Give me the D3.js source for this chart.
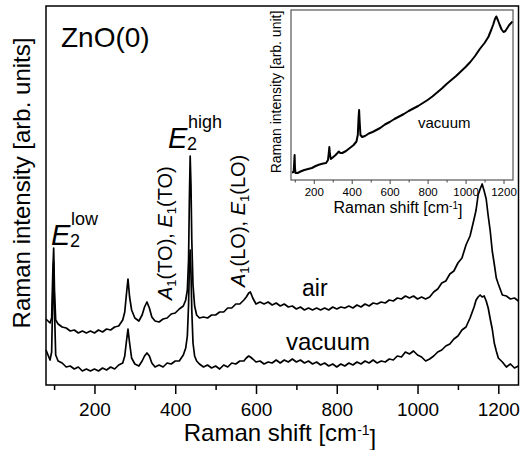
<!DOCTYPE html>
<html>
<head>
<meta charset="utf-8">
<script src="https://cdn.jsdelivr.net/npm/d3@7"></script>
<style>
  body { margin: 0; background: #fff; }
  text { font-family: "Liberation Sans", Arial, sans-serif; fill: #000; }
</style>
</head>
<body>
<div id="chart"></div>
<script>
// Raman shift grid of the main spectra [cm-1]
var shift = [
  80, 90, 94, 97, 99, 101, 104,
  110, 120, 130, 140, 150, 160, 170, 180, 190, 200,
  210, 220, 230, 240, 250, 260, 270,
  275, 279, 283, 287, 292, 300, 310,
  318, 324, 330, 336, 342, 350,
  360, 370, 380, 390, 400, 410, 420,
  426, 430, 433, 435, 437, 439, 441, 444, 448, 453, 460,
  470, 480, 490, 500, 510, 520, 530, 540, 550, 560, 570,
  576, 582, 586, 592, 600,
  610, 620, 630, 640, 650, 660, 670, 680, 690, 700,
  710, 720, 730, 740, 750, 760, 770, 780, 790, 800,
  810, 820, 830, 840, 850, 860, 870, 880, 890, 900,
  910, 920, 930, 940, 950, 960, 970, 980, 990, 1000,
  1010, 1020, 1030, 1040, 1050, 1060, 1070, 1080, 1090, 1100,
  1110, 1120, 1130, 1140,
  1145, 1150, 1155, 1160, 1165, 1170, 1175, 1180, 1185, 1190, 1195, 1200,
  1210, 1220, 1230, 1240, 1250
];

// intensity in air (arb. units)
var air = [
  66, 62, 67, 115, 137, 95, 65,
  61, 58, 57, 54, 55, 52, 54, 52, 54, 52,
  55, 53, 56, 55, 58, 59, 65,
  73, 90, 106, 88, 75, 67, 64,
  70, 78, 83, 77, 68, 64,
  63, 66, 67, 71, 72, 76, 79,
  85, 95, 125, 185, 229, 200, 145, 100, 79, 70, 67,
  68, 67, 70, 70, 73, 73, 77, 77, 81, 81, 85,
  88, 92, 93, 87, 81,
  83, 81, 83, 80, 82, 79, 81, 78, 79, 76,
  78, 75, 77, 75, 77, 75, 77, 75, 78, 76,
  78, 77, 79, 77, 80, 78, 81, 79, 82, 81,
  83, 82, 85, 84, 87, 86, 89, 87, 89, 86,
  88, 86, 88, 93, 96, 102, 104, 111, 114, 122,
  127, 140, 149, 166,
  175, 190, 196, 201, 194, 186, 169, 154, 134, 121, 107, 101,
  90, 89, 86, 87, 84
];

// intensity in vacuum (arb. units)
var vacuum = [
  35, 25, 33, 95, 123, 75, 30,
  24, 22, 18, 19, 16, 18, 14, 16, 14, 16,
  14, 17, 15, 18, 16, 20, 22,
  29, 43, 56, 42, 27, 21, 19,
  24, 29, 32, 29, 22, 18,
  20, 18, 22, 21, 24, 24, 30,
  37, 49, 80, 117, 135, 113, 75, 42, 29, 24, 21,
  18, 20, 17, 19, 16, 20, 18, 22, 21, 24, 24,
  27, 29, 28, 26, 23,
  24, 21, 23, 22, 25, 22, 25, 23, 26, 23,
  25, 22, 24, 21, 23, 20, 22, 19, 21, 18,
  21, 19, 22, 20, 23, 21, 24, 22, 25, 22,
  24, 23, 26, 25, 29, 28, 33, 31, 34, 30,
  28, 24, 26, 29, 33, 35, 39, 41, 46, 49,
  55, 58, 67, 78,
  85, 88, 90, 88, 89, 84, 77, 66, 56, 42, 34, 27,
  23, 18, 21, 17, 19
];

// inset: raw vacuum spectrum with background
var insetShift = [
  85, 94, 97, 99, 101, 104,
  115, 130, 150, 170, 190, 210, 230, 250,
  265, 275, 279, 282, 285, 290, 300,
  315, 325, 332, 340, 350,
  370, 390, 410, 425,
  432, 436, 439, 442, 446, 455,
  470, 490, 510, 530, 550,
  575, 600, 625, 650, 675, 700, 725, 750, 775, 800,
  825, 850, 875, 900, 925, 950, 975, 1000,
  1025, 1050, 1075, 1100,
  1120, 1135, 1145, 1155, 1162,
  1170, 1180, 1190, 1200, 1210, 1220, 1230, 1240, 1248
];
var insetVacuum = [
  7.5, 8, 18, 25, 12, 7,
  7, 8.5, 10, 11, 12, 14, 15.5, 16.5,
  17, 20, 27, 33, 26, 21, 22.5,
  25, 27, 28.5, 27, 27,
  29, 32, 35, 38.5,
  45, 62, 70, 58, 45, 43,
  44, 46.5, 48, 50, 52,
  55.5, 58, 61, 63.5, 66, 69, 71.5, 74, 77, 80,
  83.5, 87.5, 91.5, 96, 100, 104, 108.5, 113,
  118, 124, 131, 137,
  143, 150, 155, 161, 163.5,
  160, 155, 150.5, 148, 149, 152, 155, 157, 158.5
];

var majorTicks = [200, 400, 600, 800, 1000, 1200];
var minorTicks = [100, 300, 500, 700, 900, 1100];

var W = 521, H = 450;
var margin = {top: 6, right: 2.5, bottom: 65, left: 46},
    width = W - margin.left - margin.right,
    height = H - margin.top - margin.bottom;

var svg = d3.select("#chart")
  .append("svg")
    .attr("width", W)
    .attr("height", H);

var g = svg.append("g")
  .attr("transform", "translate(" + margin.left + "," + margin.top + ")");

var x = d3.scaleLinear().domain([80, 1250]).range([0, width]);
var y = d3.scaleLinear().domain([0, 379]).range([height, 0]);

// main spectra
var line = d3.line()
  .x(function(d) { return x(d[0]); })
  .y(function(d) { return y(d[1]); });

[air, vacuum].forEach(function(series) {
  g.append("path")
    .datum(shift.map(function(s, i) { return [s, series[i]]; }))
    .attr("fill", "none")
    .attr("stroke", "#000")
    .attr("stroke-width", 1.7)
    .attr("stroke-linejoin", "round")
    .attr("d", line);
});

// frame
g.append("rect")
  .attr("width", width)
  .attr("height", height)
  .attr("fill", "none")
  .attr("stroke", "#000")
  .attr("stroke-width", 1.5);

// X axis: minor + major ticks
var minorAxis = g.append("g")
  .attr("transform", "translate(0," + height + ")")
  .call(d3.axisBottom(x).tickValues(minorTicks).tickSize(5).tickFormat(""));
var majorAxis = g.append("g")
  .attr("transform", "translate(0," + height + ")")
  .call(d3.axisBottom(x).tickValues(majorTicks).tickSize(9).tickPadding(9).tickFormat(d3.format("d")));
[minorAxis, majorAxis].forEach(function(a) {
  a.select(".domain").remove();
  a.selectAll(".tick line").attr("stroke", "#000").attr("stroke-width", 1.5);
});
majorAxis.selectAll(".tick text")
  .style("font-family", "Liberation Sans, Arial, sans-serif")
  .style("font-size", "19px")
  .attr("fill", "#000");

// axis titles
var xt = svg.append("text")
  .attr("x", 280)
  .attr("y", 441)
  .attr("text-anchor", "middle")
  .style("font-size", "24px");
xt.append("tspan").text("Raman shift [cm");
xt.append("tspan").attr("dy", "-0.45em").style("font-size", "14px").text("-1");
xt.append("tspan").attr("dy", "0.45em").text("]");

svg.append("text")
  .attr("transform", "translate(30,183) rotate(-90)")
  .attr("text-anchor", "middle")
  .style("font-size", "24px")
  .text("Raman intensity [arb. units]");

// annotations
svg.append("text").attr("x", 61).attr("y", 47).style("font-size", "28px").text("ZnO(0)");

function mode(xp, yp, sup) {
  svg.append("text").attr("x", xp).attr("y", yp)
    .style("font-size", "29px").style("font-style", "italic").text("E");
  svg.append("text").attr("x", xp + 19).attr("y", yp + 2)
    .style("font-size", "18px").text("2");
  svg.append("text").attr("x", xp + 20).attr("y", yp - 20)
    .style("font-size", "18px").text(sup);
}
mode(51, 245, "low");
mode(168, 148, "high");

function vlabel(xp, yp, mode1, mode2) {
  var t = svg.append("text")
    .attr("transform", "translate(" + xp + "," + yp + ") rotate(-90)")
    .style("font-size", "20px");
  t.append("tspan").style("font-style", "italic").text("A");
  t.append("tspan").attr("dy", "0.3em").style("font-size", "13px").text("1");
  t.append("tspan").attr("dy", "-0.2em").text("(" + mode1 + "), ");
  t.append("tspan").style("font-style", "italic").text("E");
  t.append("tspan").attr("dy", "0.3em").style("font-size", "13px").text("1");
  t.append("tspan").attr("dy", "-0.2em").text("(" + mode2 + ")");
}
vlabel(172, 300, "TO", "TO");
vlabel(245, 287, "LO", "LO");

svg.append("text").attr("x", 302).attr("y", 296).style("font-size", "23px").text("air");
svg.append("text").attr("x", 286).attr("y", 350).style("font-size", "24px").text("vacuum");

// inset
var inset = {left: 291, top: 10, width: 222, height: 170};
var ig = svg.append("g")
  .attr("transform", "translate(" + inset.left + "," + inset.top + ")");

var ix = d3.scaleLinear().domain([80, 1250]).range([0, inset.width]);
var iy = d3.scaleLinear().domain([0, 170]).range([inset.height, 0]);

ig.append("rect")
  .attr("width", inset.width)
  .attr("height", inset.height)
  .attr("fill", "#fff");

ig.append("path")
  .datum(insetShift.map(function(s, i) { return [s, insetVacuum[i]]; }))
  .attr("fill", "none")
  .attr("stroke", "#000")
  .attr("stroke-width", 2)
  .attr("stroke-linejoin", "round")
  .attr("d", d3.line().x(function(d) { return ix(d[0]); }).y(function(d) { return iy(d[1]); }));

ig.append("rect")
  .attr("width", inset.width)
  .attr("height", inset.height)
  .attr("fill", "none")
  .attr("stroke", "#555")
  .attr("stroke-width", 1.2);

var iMinor = ig.append("g")
  .attr("transform", "translate(0," + inset.height + ")")
  .call(d3.axisBottom(ix).tickValues(minorTicks).tickSize(2.5).tickFormat(""));
var iMajor = ig.append("g")
  .attr("transform", "translate(0," + inset.height + ")")
  .call(d3.axisBottom(ix).tickValues(majorTicks).tickSize(4).tickPadding(4).tickFormat(d3.format("d")));
[iMinor, iMajor].forEach(function(a) {
  a.select(".domain").remove();
  a.selectAll(".tick line").attr("stroke", "#444");
});
iMajor.selectAll(".tick text")
  .style("font-family", "Liberation Sans, Arial, sans-serif")
  .style("font-size", "11.5px")
  .attr("fill", "#000");

var ixt = svg.append("text")
  .attr("x", 398)
  .attr("y", 213)
  .attr("text-anchor", "middle")
  .style("font-size", "16px");
ixt.append("tspan").text("Raman shift [cm");
ixt.append("tspan").attr("dy", "-0.45em").style("font-size", "10px").text("-1");
ixt.append("tspan").attr("dy", "0.45em").text("]");

svg.append("text")
  .attr("transform", "translate(281,92) rotate(-90)")
  .attr("text-anchor", "middle")
  .style("font-size", "14px")
  .text("Raman intensity [arb. unit]");

svg.append("text").attr("x", 418).attr("y", 128).style("font-size", "15px").text("vacuum");
</script>
</body>
</html>
